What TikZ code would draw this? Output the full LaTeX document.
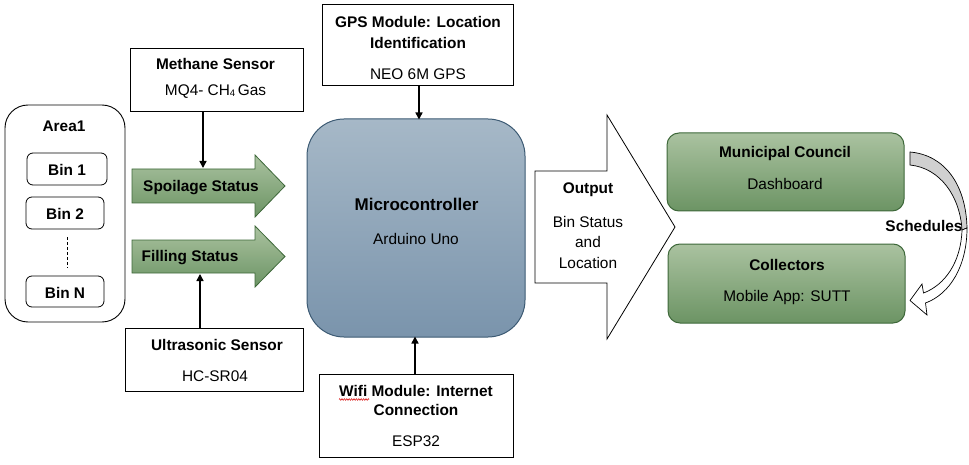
\documentclass[tikz,border=0pt]{standalone}
\usepackage{fontspec}
\setmainfont{Liberation Sans}
\usetikzlibrary{arrows.meta,decorations.pathmorphing}
\definecolor{grTop}{RGB}{170,194,160}
\definecolor{grBot}{RGB}{108,148,100}
\definecolor{grLine}{RGB}{62,104,58}
\definecolor{blTop}{RGB}{166,184,199}
\definecolor{blBot}{RGB}{122,148,172}
\definecolor{blLine}{RGB}{60,90,115}
\definecolor{schGray}{RGB}{208,208,208}
\definecolor{spellRed}{RGB}{220,30,30}
\tikzset{
  txt/.style={anchor=base, inner sep=0pt, font=\fontsize{15.4}{18}\selectfont},
  btxt/.style={anchor=base, inner sep=0pt, font=\fontsize{15.4}{18}\selectfont\bfseries},
  plainbox/.style={draw=black, line width=0.9pt, fill=white, inner sep=0pt},
  binbox/.style={draw=black, line width=0.8pt, rounded corners=6pt, fill=white, inner sep=0pt},
  greenbox/.style={draw=grLine, line width=1pt, rounded corners=12pt, top color=grTop, bottom color=grBot, inner sep=0pt},
  greenarrow/.style={draw=grLine, line width=0.8pt, top color=grTop, bottom color=grBot},
  feed/.style={line width=1.5pt, -{Triangle[length=7pt,width=7pt]}},
}
\begin{document}
\begin{tikzpicture}[x=1pt,y=-1pt]
\path[use as bounding box] (0,0) rectangle (969,465);

% ---- Area with bins
\node[draw=black, line width=0.9pt, rounded corners=23pt, minimum width=120pt, minimum height=217pt, inner sep=0pt] (area) at (65,213.5) {};
\node[btxt] (areaT) at (64,132) {Area1};
\node[binbox, minimum width=80pt, minimum height=32pt] (bin1) at (67,169) {};
\node[btxt] (bin1T) at (67,175.7) {Bin 1};
\node[binbox, minimum width=78pt, minimum height=32pt] (bin2) at (65,213) {};
\node[btxt] (bin2T) at (65,219) {Bin 2};
\node[binbox, minimum width=78pt, minimum height=31pt] (binN) at (65,291.5) {};
\node[btxt] (binNT) at (65,298) {Bin N};
\draw[line width=0.8pt, dash pattern=on 3pt off 2pt] (bin2.south -| 67,0) ++(0,8) coordinate (dashA) -- (67,268) coordinate (dashB);

% ---- Green status arrows
\draw[greenarrow] (132,169) -- (255,169) -- (255,155) -- (285,186) -- (255,217) -- (255,203) -- (132,203) -- cycle;
\node[btxt] (spoilT) at (201,191.7) {Spoilage Status};
\coordinate (spoilTop) at (203,168);
\draw[greenarrow] (132,240) -- (255,240) -- (255,226) -- (285,256.5) -- (255,287) -- (255,273) -- (132,273) -- cycle;
\node[btxt] (fillT) at (190,261.7) {Filling Status};
\coordinate (fillBot) at (200,274);

% ---- Methane sensor
\node[plainbox, minimum width=173pt, minimum height=63pt] (methane) at (216.5,79.5) {};
\node[btxt] (methT1) at (215.5,70) {Methane Sensor};
\node[txt] (methT2) at (215.5,95.7) {MQ4- CH\raisebox{-0.6pt}{\fontsize{9.5}{10}\selectfont 4}\,Gas};
\draw[feed] (methane.south -| spoilTop) -- (spoilTop);

% ---- Ultrasonic sensor
\node[plainbox, minimum width=178pt, minimum height=63pt] (ultra) at (214,359.5) {};
\node[btxt] (ultraT1) at (217,350) {Ultrasonic Sensor};
\node[txt] (ultraT2) at (215,381.7) {HC-SR04};
\draw[feed] (ultra.north -| fillBot) -- (fillBot);

% ---- Microcontroller
\node[draw=blLine, line width=1pt, rounded corners=37pt, top color=blTop, bottom color=blBot, minimum width=218pt, minimum height=218pt, inner sep=0pt] (micro) at (416,228) {};
\node[anchor=base, inner sep=0pt, font=\fontsize{17}{20}\selectfont\bfseries] (microT1) at (416.5,211) {Microcontroller};
\node[txt] (microT2) at (416,244) {Arduino Uno};

% ---- GPS
\node[plainbox, minimum width=191pt, minimum height=81pt] (gps) at (417.5,44.5) {};
\node[btxt] (gpsT1) at (418,27.7) {GPS Module: Location};
\node[btxt] (gpsT2) at (418,48.3) {Identification};
\node[txt] (gpsT3) at (418,79.3) {NEO 6M GPS};
\coordinate (microTop) at (419,119.5);
\draw[feed] (gps.south -| microTop) -- (microTop);

% ---- Wifi
\node[plainbox, minimum width=194pt, minimum height=83pt] (wifi) at (416,415.5) {};
\node[btxt] (wifiT1) at (416,396) {Wifi Module: Internet};
\node[btxt] (wifiT2) at (416,415.7) {Connection};
\node[txt] (wifiT3) at (416,446.7) {ESP32};
\draw[spellRed, line width=0.6pt, decorate, decoration={zigzag, amplitude=0.8pt, segment length=2.4pt}] (339,399.5) coordinate (spA) -- (369,399.5) coordinate (spB);
\coordinate (microBot) at (415,336.5);
\draw[feed] (wifi.north -| microBot) -- (microBot);

% ---- Output arrow
\draw[line width=0.8pt, fill=white] (535,171) -- (607,171) -- (607,115) -- (675,227) -- (607,339) -- (607,283) -- (535,283) -- cycle;
\node[btxt] (outT1) at (588,194) {Output};
\node[txt] (outT2) at (588,227.3) {Bin Status};
\node[txt] (outT3) at (588,247.3) {and};
\node[txt] (outT4) at (588,269) {Location};

% ---- Municipal council and collectors
\node[greenbox, minimum width=237pt, minimum height=78pt] (muni) at (785.5,172) {};
\node[btxt] (muniT1) at (785,157.3) {Municipal Council};
\node[txt] (muniT2) at (785,190) {Dashboard};
\node[greenbox, minimum width=237pt, minimum height=79pt] (coll) at (786.5,283.5) {};
\node[btxt] (collT1) at (787,270) {Collectors};
\node[txt] (collT2) at (787,301.7) {Mobile App: SUTT};

% ---- Schedules curved arrow
\draw[line width=0.7pt, fill=schGray] (910,152) .. controls (945,155) and (966,185) .. (967,228) -- (962,230) .. controls (960,196) and (940,168) .. (910,165) -- cycle;
\draw[line width=0.7pt, fill=white] (967,228) .. controls (967,266) and (950,294) .. (925.5,303) -- (927,315) -- (910,300.5) -- (922,284) -- (923.5,293) .. controls (945,285) and (961,262) .. (962,230) -- cycle;
\node[btxt] (schedT) at (924,231.7) {Schedules};
\end{tikzpicture}
\end{document}
